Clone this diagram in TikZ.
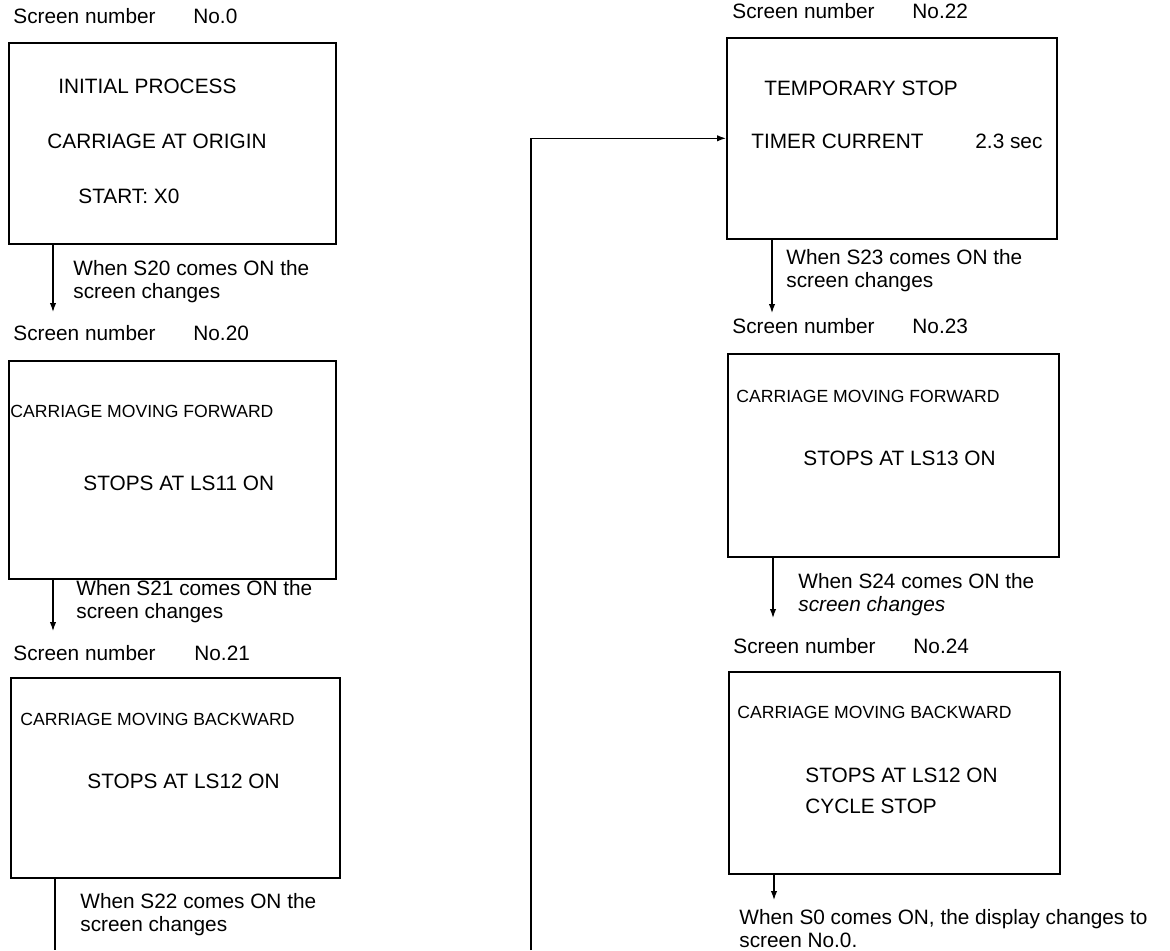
\documentclass[tikz,border=0pt]{standalone}
\usepackage{fontspec}
\setmainfont{Liberation Sans}
\usetikzlibrary{arrows.meta}

\begin{document}
\begin{tikzpicture}[x=0.5pt,y=-0.5pt,
  txt/.style={anchor=mid west,inner sep=0pt,font=\fontsize{10.4}{11.5}\selectfont},
  sml/.style={txt,font=\fontsize{8.8}{10}\selectfont},
  note/.style={txt,anchor=west,align=left},
  screen/.style 2 args={draw,line width=0.8pt,anchor=north west,inner sep=0pt,minimum width=#1,minimum height=#2},
  flow/.style={line width=0.6pt,-{Latex[length=4.5pt,width=3.2pt]}},
  wire/.style={line width=0.6pt}]
\useasboundingbox (0,0) rectangle (1170,950);

\node [screen={163.5pt}{100.5pt}] (s0) at (8,42) {};
\node [txt] (h0) at (13,18) {Screen number};
\node [txt] (n0) at (193,18) {No.0};
\node [txt] (t0a) at (58,88) {INITIAL PROCESS};
\node [txt] (t0b) at (47,143) {CARRIAGE AT ORIGIN};
\node [txt] (t0c) at (78,198) {START: X0};

\node [screen={163.5pt}{109pt}] (s20) at (8,360) {};
\node [txt] (h20) at (13,335) {Screen number};
\node [txt] (n20) at (193,335) {No.20};
\node [sml] (t20a) at (10,412) {CARRIAGE MOVING FORWARD};
\node [txt] (t20b) at (83,485) {STOPS AT LS11 ON};

\node [screen={164.5pt}{100pt}] (s21) at (10,677) {};
\node [txt] (h21) at (13,655) {Screen number};
\node [txt] (n21) at (194,655) {No.21};
\node [sml] (t21a) at (20,720) {CARRIAGE MOVING BACKWARD};
\node [txt] (t21b) at (87,783) {STOPS AT LS12 ON};

\node [screen={165pt}{100.5pt}] (s22) at (726,37) {};
\node [txt] (h22) at (732,13) {Screen number};
\node [txt] (n22) at (912,13) {No.22};
\node [txt] (t22a) at (764,90) {TEMPORARY STOP};
\node [txt] (t22b) at (751,143) {TIMER CURRENT};
\node [txt] (t22c) at (975,143) {2.3 sec};

\node [screen={165.5pt}{101.5pt}] (s23) at (727,353) {};
\node [txt] (h23) at (732,328) {Screen number};
\node [txt] (n23) at (912,328) {No.23};
\node [sml] (t23a) at (736,397) {CARRIAGE MOVING FORWARD};
\node [txt] (t23b) at (803,460) {STOPS AT LS13 ON};

\node [screen={165.5pt}{101pt}] (s24) at (728,671) {};
\node [txt] (h24) at (733,648) {Screen number};
\node [txt] (n24) at (913,648) {No.24};
\node [sml] (t24a) at (737,713) {CARRIAGE MOVING BACKWARD};
\node [txt] (t24b) at (805,777) {STOPS AT LS12 ON};
\node [txt] (t24c) at (805,808) {CYCLE STOP};

\coordinate (a0) at (53,312);
\coordinate (a20) at (53,631);
\coordinate (e21) at (55,950);
\coordinate (e22) at (531,950);
\coordinate (a22) at (772,313);
\coordinate (a23) at (773,618);
\coordinate (a24) at (774,900);

\draw [flow] (s0.south -| a0) -- (a0);
\node [note] (c0) at (73,282) {When S20 comes ON the\\screen changes};
\draw [flow] (s20.south -| a20) -- (a20);
\node [note] (c20) at (76,602) {When S21 comes ON the\\screen changes};
\draw [wire] (s21.south -| e21) -- (e21);
\node [note] (c21) at (80,915) {When S22 comes ON the\\screen changes};
\draw [flow] (e22) |- (s22.west);

\draw [flow] (s22.south -| a22) -- (a22);
\node [note] (c22) at (786,271) {When S23 comes ON the\\screen changes};
\draw [flow] (s23.south -| a23) -- (a23);
\node [note] (c23) at (798,595) {When S24 comes ON the\\\textit{screen changes}};
\draw [flow] (s24.south -| a24) -- (a24);
\node [note] (c24) at (739,929) {When S0 comes ON, the display changes to\\screen No.0.};
\end{tikzpicture}
\end{document}
